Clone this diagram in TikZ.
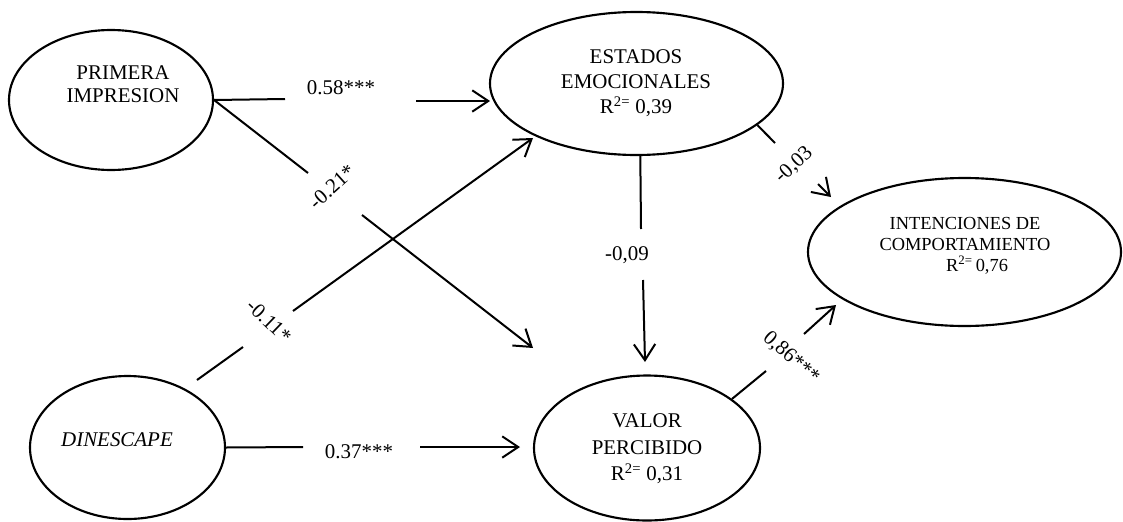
\documentclass[tikz,border=0pt]{standalone}
\usepackage{fontspec}
\setmainfont{Liberation Serif}
\usetikzlibrary{shapes.geometric,arrows.meta}
\begin{document}
\begin{tikzpicture}[x=0.75pt,y=-0.75pt,
  construct/.style={ellipse,draw,line width=1.6pt,inner sep=0pt},
  nametext/.style={align=center,inner sep=0pt,font=\fontsize{15.7}{18.8}\selectfont},
  coef/.style={inner sep=0pt,font=\fontsize{15.7}{18.8}\selectfont},
  link/.style={line width=1.5pt},
  pathto/.style={link,-{Straight Barb[length=12pt,width=16pt]}}
]
\useasboundingbox (0,0) rectangle (1123,521);

% latent constructs
\node[construct,minimum width=153pt,minimum height=105pt] (pi) at (111,100) {};
\node[construct,minimum width=219.75pt,minimum height=107.25pt] (ee) at (636.5,83.5) {};
\node[construct,minimum width=234.75pt,minimum height=111pt] (ic) at (964.5,252) {};
\node[construct,minimum width=146.25pt,minimum height=107.25pt] (din) at (127.5,447.5) {};
\node[construct,minimum width=169.5pt,minimum height=108.75pt] (vp) at (647,448) {};

% construct names
\node[nametext,font=\fontsize{15.7}{17.3}\selectfont] (pitxt) at (123,84.5) {PRIMERA\\IMPRESION};
\node[nametext,font=\fontsize{15.7}{18.8}\selectfont] (eetxt) at (636,83) {ESTADOS\\EMOCIONALES\\R\textsuperscript{2=} 0,39};
\node[nametext,font=\fontsize{13.8}{15.7}\selectfont] (ictxt) at (965,246) {INTENCIONES DE\\COMPORTAMIENTO\\\hspace*{18pt}R\textsuperscript{2=}\,0,76};
\node[nametext,font=\fontsize{15.7}{19.9}\selectfont] (vptxt) at (647,449) {VALOR\\PERCIBIDO\\R\textsuperscript{2=} 0,31};
\node[nametext,font=\fontsize{15.7}{18.8}\selectfont\itshape] (dintxt) at (117,440) {DINESCAPE};

% path coefficients
\node[coef] (c1) at (341,88) {0.58***};
\node[coef,rotate=42] (c2) at (332,187) {-0.21*};
\node[coef,rotate=-44] (c3) at (269,321) {-0.11*};
\node[coef] (c4) at (359,452) {0.37***};
\node[coef] (c5) at (627,255) {-0,09};
\node[coef,rotate=43] (c6) at (794,165) {-0,03};
\node[coef,rotate=-42] (c7) at (791,358) {0,86***};

% gaps around the coefficients and arrow tips
\coordinate (g1a) at (285,99);  \coordinate (g1b) at (416,101); \coordinate (t1) at (490,101);
\coordinate (g2a) at (308,173); \coordinate (g2b) at (362,215); \coordinate (t2) at (533,348);
\coordinate (s3) at (197,380);  \coordinate (g3a) at (243,347); \coordinate (g3b) at (293,311); \coordinate (t3) at (533,138);
\coordinate (g4a) at (303,447); \coordinate (g4b) at (420,447); \coordinate (t4) at (520,447);
\coordinate (g5a) at (641,229); \coordinate (g5b) at (643,280); \coordinate (t5) at (645,362);
\coordinate (g6a) at (775,143); \coordinate (g6b) at (818,184); \coordinate (t6) at (831,197);
\coordinate (g7a) at (766,371); \coordinate (g7b) at (804,334); \coordinate (t7) at (836,305);

% structural paths
\draw[link] (pi.east) -- (g1a);  \draw[pathto] (g1b) -- (t1);
\draw[link] (pi.east) -- (g2a);  \draw[pathto] (g2b) -- (t2);
\draw[link] (s3) -- (g3a);       \draw[pathto] (g3b) -- (t3);
\draw[link] (din.east) -- (g4a); \draw[pathto] (g4b) -- (t4);
\draw[link] (ee.273) -- (g5a);   \draw[pathto] (g5b) -- (t5);
\draw[link] (ee.-19) -- (g6a);   \draw[pathto] (g6b) -- (t6);
\draw[link] (vp.30) -- (g7a);    \draw[pathto] (g7b) -- (t7);
\end{tikzpicture}
\end{document}
